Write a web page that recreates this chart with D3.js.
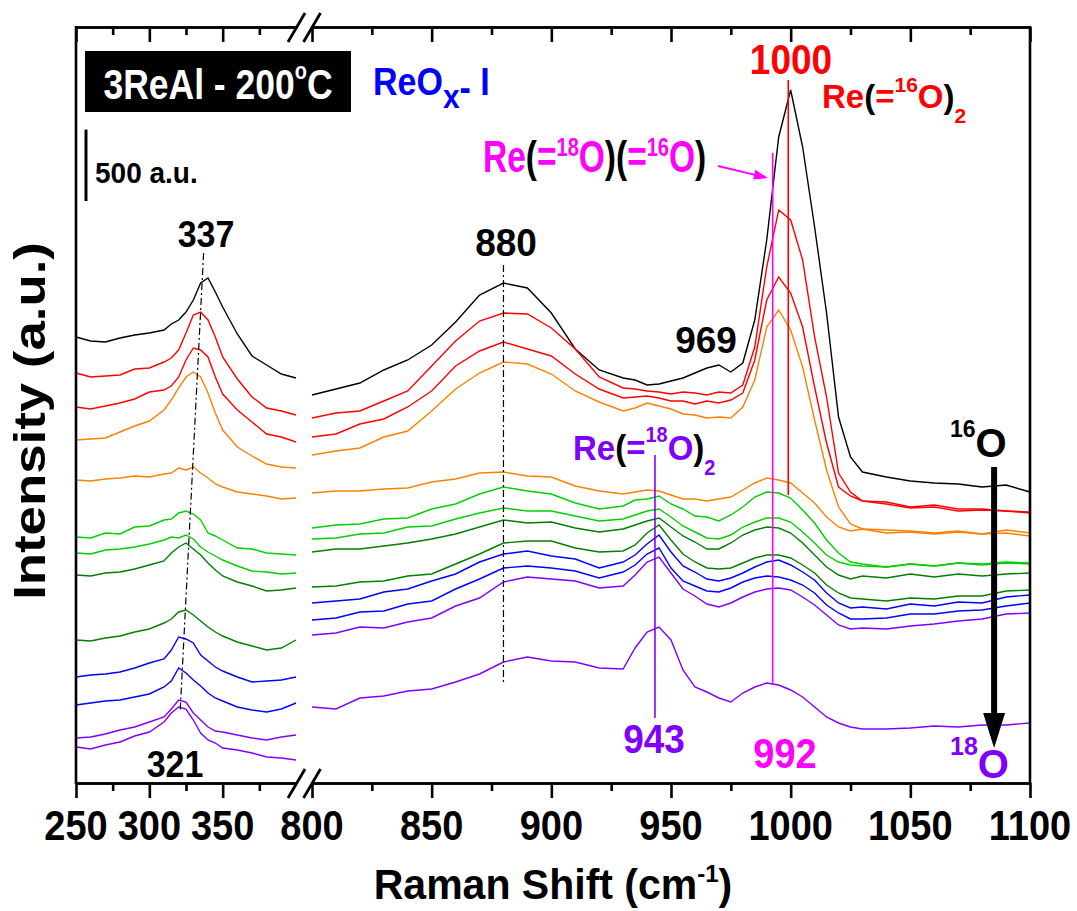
<!DOCTYPE html>
<html lang="en">
  <head>
    <meta charset="UTF-8" />
    <title>3ReAl Raman</title>
    <script src="https://d3js.org/d3.v7.min.js"></script>
    <style>
      body { margin: 0; background: #fff; }
      text { font-family: 'Liberation Sans', Arial, sans-serif; font-weight: bold; }
    </style>
  </head>
  <body>
    <svg width="1077" height="911"></svg>
    <script>
      // Raman shift grids (cm-1) for the two panels of the broken axis
      var xLeft = [250, 260, 270, 280, 290, 300, 310, 315, 320, 325, 330, 335, 340, 345, 350, 360, 370, 380, 390, 400]
      var xRight = [800, 810, 820, 830, 840, 850, 860, 870, 880, 890, 900, 910, 920, 930, 935, 940, 945, 950, 955, 960,
        965, 970, 975, 980, 985, 990, 995, 1000, 1005, 1010, 1015, 1020, 1025, 1030, 1040, 1050, 1060, 1070, 1080, 1090, 1100]

      // stacked intensities (a.u.), top trace (16O) to bottom trace (18O)
      var blackL = [3122, 3094, 3087, 3115, 3136, 3150, 3171, 3213, 3241, 3297, 3381, 3500, 3535, 3437, 3332, 3143, 2989, 2926, 2863, 2835]
      var red1L = [2870, 2842, 2849, 2856, 2898, 2905, 2947, 2975, 3031, 3150, 3276, 3297, 3241, 3122, 2982, 2828, 2702, 2625, 2604, 2576]
      var red2L = [2632, 2618, 2639, 2660, 2688, 2737, 2751, 2779, 2842, 2961, 3045, 3031, 2982, 2842, 2723, 2611, 2527, 2443, 2422, 2387]
      var orange1L = [2401, 2408, 2415, 2457, 2499, 2534, 2611, 2681, 2765, 2842, 2877, 2842, 2730, 2590, 2471, 2352, 2289, 2233, 2212, 2205]
      var orange2L = [2121, 2114, 2128, 2135, 2149, 2142, 2163, 2170, 2205, 2191, 2212, 2170, 2135, 2093, 2072, 2037, 2023, 2009, 1988, 1995]
      var green1L = [1722, 1715, 1750, 1743, 1792, 1799, 1841, 1848, 1890, 1904, 1883, 1841, 1750, 1729, 1701, 1645, 1638, 1610, 1603, 1596]
      var green2L = [1610, 1603, 1631, 1638, 1652, 1673, 1701, 1722, 1715, 1736, 1708, 1652, 1617, 1589, 1561, 1519, 1484, 1477, 1463, 1470]
      var dkgreen1L = [1456, 1449, 1470, 1477, 1498, 1526, 1554, 1610, 1652, 1680, 1638, 1596, 1540, 1491, 1449, 1407, 1379, 1344, 1351, 1365]
      var dkgreen2L = [1001, 994, 1015, 1029, 1057, 1078, 1120, 1148, 1197, 1211, 1176, 1134, 1092, 1057, 1029, 987, 959, 931, 945, 1001]
      var blue1L = [742, 756, 763, 777, 805, 840, 868, 931, 1022, 1008, 980, 896, 854, 812, 784, 742, 707, 714, 721, 742]
      var blue2L = [546, 560, 574, 581, 602, 623, 672, 714, 805, 770, 721, 679, 630, 595, 574, 532, 511, 497, 518, 560]
      var purple1L = [315, 322, 343, 371, 392, 427, 462, 518, 581, 567, 490, 441, 392, 364, 357, 336, 315, 301, 322, 336]
      var purple2L = [252, 238, 266, 287, 329, 357, 427, 490, 532, 518, 441, 350, 301, 280, 245, 231, 210, 182, 175, 161]

      var blackR = [2716, 2758, 2800, 2891, 2961, 3066, 3227, 3416, 3500, 3465, 3290, 3038, 2891, 2835, 2821, 2786, 2793, 2814, 2835, 2870,
        2905, 2926, 2877, 2940, 3241, 3801, 4522, 4851, 4452, 3892, 3290, 2562, 2282, 2177, 2142, 2114, 2100, 2093, 2072, 2086, 2037]
      var red1R = [2555, 2590, 2604, 2674, 2744, 2919, 3094, 3234, 3290, 3283, 3185, 3038, 2842, 2765, 2758, 2744, 2737, 2723, 2737, 2730,
        2716, 2737, 2730, 2786, 3052, 3612, 4011, 3941, 3661, 3122, 2702, 2170, 2037, 1974, 1967, 1932, 1946, 1918, 1918, 1904, 1897]
      var red2R = [2422, 2443, 2513, 2548, 2632, 2744, 2919, 3024, 3087, 3038, 2989, 2863, 2758, 2695, 2702, 2709, 2695, 2674, 2674, 2653,
        2674, 2660, 2681, 2730, 2961, 3381, 3542, 3430, 3192, 2772, 2380, 2072, 2009, 1974, 1953, 1925, 1932, 1904, 1911, 1904, 1890]
      var orange1R = [2296, 2324, 2345, 2422, 2464, 2604, 2758, 2870, 2947, 2933, 2863, 2744, 2667, 2604, 2625, 2660, 2639, 2618, 2583, 2576,
        2555, 2562, 2555, 2632, 2821, 3192, 3311, 3171, 2912, 2541, 2191, 1932, 1813, 1778, 1771, 1764, 1750, 1764, 1743, 1771, 1750]
      var orange2R = [2030, 2044, 2044, 2058, 2065, 2107, 2128, 2170, 2177, 2149, 2142, 2079, 2044, 2023, 2037, 2051, 2044, 2016, 1988, 1988,
        1974, 1988, 2002, 2051, 2100, 2135, 2121, 2100, 2030, 1960, 1862, 1792, 1764, 1778, 1750, 1757, 1743, 1757, 1743, 1750, 1729]
      var green1R = [1785, 1806, 1813, 1848, 1855, 1918, 1953, 2023, 2072, 2044, 2023, 1960, 1918, 1939, 1981, 1988, 2009, 1953, 1918, 1869,
        1862, 1834, 1876, 1932, 2002, 2037, 2030, 1995, 1911, 1820, 1701, 1610, 1547, 1533, 1512, 1533, 1519, 1540, 1526, 1540, 1533]
      var green2R = [1708, 1715, 1743, 1750, 1792, 1799, 1848, 1890, 1925, 1904, 1904, 1869, 1834, 1848, 1876, 1904, 1918, 1862, 1799, 1757,
        1715, 1708, 1736, 1792, 1827, 1855, 1855, 1827, 1757, 1680, 1596, 1547, 1526, 1519, 1512, 1533, 1519, 1540, 1533, 1547, 1540]
      var dkgreen1R = [1617, 1638, 1638, 1659, 1680, 1708, 1743, 1792, 1841, 1820, 1827, 1785, 1757, 1778, 1806, 1834, 1855, 1792, 1729, 1687,
        1638, 1638, 1680, 1736, 1771, 1792, 1785, 1750, 1680, 1596, 1512, 1456, 1428, 1449, 1435, 1463, 1442, 1463, 1449, 1463, 1470]
      var dkgreen2R = [1372, 1379, 1407, 1414, 1449, 1463, 1533, 1603, 1680, 1694, 1694, 1645, 1617, 1624, 1666, 1750, 1806, 1701, 1603, 1547,
        1505, 1498, 1505, 1540, 1575, 1596, 1596, 1575, 1526, 1470, 1386, 1330, 1295, 1288, 1274, 1295, 1288, 1309, 1309, 1344, 1351]
      var blue1R = [1260, 1274, 1288, 1337, 1358, 1414, 1463, 1547, 1603, 1624, 1589, 1568, 1505, 1547, 1596, 1673, 1736, 1617, 1519, 1477,
        1428, 1414, 1435, 1470, 1512, 1547, 1561, 1526, 1477, 1421, 1330, 1260, 1225, 1232, 1218, 1253, 1239, 1267, 1260, 1302, 1316]
      var blue2R = [1141, 1155, 1197, 1204, 1253, 1274, 1358, 1428, 1505, 1519, 1505, 1484, 1435, 1477, 1526, 1603, 1645, 1505, 1414, 1379,
        1344, 1337, 1365, 1407, 1435, 1449, 1442, 1421, 1386, 1330, 1246, 1190, 1148, 1148, 1155, 1183, 1183, 1204, 1211, 1239, 1260]
      var purple1R = [1036, 1050, 1092, 1085, 1127, 1155, 1239, 1295, 1407, 1442, 1428, 1414, 1365, 1379, 1456, 1547, 1582, 1470, 1358, 1309,
        1253, 1232, 1260, 1302, 1337, 1358, 1365, 1351, 1302, 1246, 1176, 1106, 1078, 1085, 1078, 1099, 1113, 1134, 1148, 1183, 1190]
      var purple2R = [532, 518, 595, 609, 644, 658, 707, 763, 847, 882, 854, 847, 805, 798, 945, 1057, 1092, 1001, 791, 672,
        637, 595, 567, 630, 672, 700, 686, 651, 602, 532, 462, 420, 392, 378, 378, 385, 399, 392, 406, 406, 420]

      var seriesL = [blackL, red1L, red2L, orange1L, orange2L, green1L, green2L, dkgreen1L, dkgreen2L, blue1L, blue2L, purple1L, purple2L]
      var seriesR = [blackR, red1R, red2R, orange1R, orange2R, green1R, green2R, dkgreen1R, dkgreen2R, blue1R, blue2R, purple1R, purple2R]
      var seriesColors = ['#000000', '#ff0000', '#ff0000', '#ff8000', '#ff8000', '#00d000', '#00d000', '#007f00', '#007f00',
        '#0000ff', '#0000ff', '#8000ff', '#8000ff']

      var majorL = [250, 300, 350]
      var minorL = [275, 325, 375]
      var majorR = [800, 850, 900, 950, 1000, 1050, 1100]
      var minorR = [825, 875, 925, 975, 1025, 1075]

      // peak marker lines: position, top, bottom (a.u.), colour
      var peakPos = [999, 992.5, 943.3]
      var peakTop = [4921, 4410, 2296]
      var peakBottom = [2016, 700, 455]
      var peakColor = ['#ff0000', '#ff00ff', '#8000ff']

      var svg = d3.select('svg')
      var plotL = 76, plotR = 1030, plotT = 27, plotB = 783

      var xL = d3.scaleLinear().domain([250, 400]).range([plotL, 296])
      var xR = d3.scaleLinear().domain([800, 1100]).range([312, plotR])
      var y = d3.scaleLinear().domain([0, 5292]).range([plotB, plotT])

      // spectra
      var lineL = d3.line().x(function(d, i) { return xL(xLeft[i]) }).y(function(d) { return y(d) })
      var lineR = d3.line().x(function(d, i) { return xR(xRight[i]) }).y(function(d) { return y(d) })

      svg.append('g').selectAll('path').data(seriesL).enter().append('path')
        .attr('d', lineL).attr('fill', 'none').attr('stroke-width', 1.4)
        .attr('stroke', function(d, i) { return seriesColors[i] })
      svg.append('g').selectAll('path').data(seriesR).enter().append('path')
        .attr('d', lineR).attr('fill', 'none').attr('stroke-width', 1.4)
        .attr('stroke', function(d, i) { return seriesColors[i] })

      // dash-dot guide lines
      svg.append('line')
        .attr('x1', xL(337)).attr('y1', y(3710)).attr('x2', xL(321)).attr('y2', y(497))
        .attr('stroke', '#000').attr('stroke-width', 1.2).attr('stroke-dasharray', '7,3,2,3')
      svg.append('line')
        .attr('x1', xR(880)).attr('y1', y(3626)).attr('x2', xR(880)).attr('y2', y(707))
        .attr('stroke', '#000').attr('stroke-width', 1.2).attr('stroke-dasharray', '7,3,2,3')

      // peak lines
      svg.append('g').selectAll('line').data(peakPos).enter().append('line')
        .attr('x1', function(d) { return xR(d) }).attr('x2', function(d) { return xR(d) })
        .attr('y1', function(d, i) { return y(peakTop[i]) }).attr('y2', function(d, i) { return y(peakBottom[i]) })
        .attr('stroke', function(d, i) { return peakColor[i] }).attr('stroke-width', 1.6)

      // axes (ticks only, labels drawn below)
      function drawAxis(scale, major, minor) {
        var b1 = svg.append('g').attr('transform', `translate(0,${plotB})`)
          .call(d3.axisBottom(scale).tickValues(major).tickSize(15).tickSizeOuter(0).tickFormat(''))
        var b2 = svg.append('g').attr('transform', `translate(0,${plotB})`)
          .call(d3.axisBottom(scale).tickValues(minor).tickSize(8).tickSizeOuter(0).tickFormat(''))
        var t1 = svg.append('g').attr('transform', `translate(0,${plotT})`)
          .call(d3.axisTop(scale).tickValues(major).tickSize(-15).tickSizeOuter(0).tickFormat(''))
        var t2 = svg.append('g').attr('transform', `translate(0,${plotT})`)
          .call(d3.axisTop(scale).tickValues(minor).tickSize(-8).tickSizeOuter(0).tickFormat(''))
        ;[b1, b2, t1, t2].forEach(function(g) {
          g.selectAll('path, line').attr('stroke', '#000').attr('stroke-width', 2.6)
        })
      }
      drawAxis(xL, majorL, minorL)
      drawAxis(xR, majorR, minorR)

      svg.append('line').attr('x1', plotL).attr('x2', plotL).attr('y1', plotT - 1).attr('y2', plotB + 1)
        .attr('stroke', '#000').attr('stroke-width', 2.6)
      svg.append('line').attr('x1', plotR).attr('x2', plotR).attr('y1', plotT - 1).attr('y2', plotB + 1)
        .attr('stroke', '#000').attr('stroke-width', 2.6)

      // axis break marks
      ;[plotT, plotB].forEach(function(yy) {
        ;[0, 15.5].forEach(function(dx) {
          svg.append('line')
            .attr('x1', 288 + dx).attr('y1', yy + 15).attr('x2', 305 + dx).attr('y2', yy - 14)
            .attr('stroke', '#000').attr('stroke-width', 2.8)
        })
      })

      // text helper: stretched bold text with coloured tspans
      function label(x, yy, size, k, anchor, parts) {
        var t = svg.append('text')
          .attr('transform', `translate(${x},${yy}) scale(1,${k})`)
          .attr('text-anchor', anchor)
          .attr('font-size', size)
        parts.forEach(function(p) {
          t.append('tspan').text(p[0]).attr('fill', p[1])
            .attr('font-size', p[2] || size).attr('dy', p[3] || 0)
        })
        return t
      }

      // tick labels
      majorL.forEach(function(v) { label(xL(v), 840, 38, 1.1, 'middle', [[v, '#000']]) })
      majorR.forEach(function(v) { label(xR(v), 840, 38, 1.1, 'middle', [[v, '#000']]) })

      // axis titles
      label(553, 899, 41, 1.02, 'middle', [['Raman Shift (cm', '#000'], ['-1', '#000', 24, -17], [')', '#000', 41, 17]])
      svg.append('text')
        .attr('transform', 'translate(45,421) rotate(-90) scale(1.2,1)')
        .attr('text-anchor', 'middle').attr('font-size', 44).attr('fill', '#000')
        .text('Intensity (a.u.)')

      // sample box
      svg.append('rect').attr('x', 85).attr('y', 51).attr('width', 266).attr('height', 61).attr('fill', '#000')
      label(218, 99, 35.5, 1.2, 'middle', [['3ReAl - 200', '#fff'], ['o', '#fff', 20, -17], ['C', '#fff', 35.5, 17]])

      // ReOx - I
      label(373, 95, 34, 1.12, 'start', [['ReO', '#0000ff'], ['x', '#0000ff', 30, 12], ['-', '#0000ff', 34, -7], [' I', '#0000ff', 34, -5]])

      // scale bar
      svg.append('line').attr('x1', 86).attr('x2', 86).attr('y1', y(4074)).attr('y2', y(4574))
        .attr('stroke', '#000').attr('stroke-width', 3)
      label(95, 183, 28, 1.03, 'start', [['500 a.u.', '#000']])

      // peak position labels
      label(206, 247, 34, 1.1, 'middle', [['337', '#000']])
      label(175, 777, 34, 1.1, 'middle', [['321', '#000']])
      label(506, 256, 37, 1.06, 'middle', [['880', '#000']])
      label(706, 353, 37, 1.0, 'middle', [['969', '#000']])
      label(791, 74, 37, 1.15, 'middle', [['1000', '#ff0000']])
      label(654, 753, 37, 1.1, 'middle', [['943', '#8000ff']])
      label(785, 768, 38, 1.1, 'middle', [['992', '#ff00ff']])

      // species labels
      label(822, 108, 33, 1.0, 'start', [['Re', '#ff0000'], ['(', '#000'], ['=', '#ff0000'], ['16', '#ff0000', 21, -16],
        ['O', '#ff0000', 33, 16], [')', '#000'], ['2', '#ff0000', 21, 15]])
      label(483, 172, 33.5, 1.3, 'start', [['Re', '#ff00ff'], ['(', '#000'], ['=', '#ff00ff'], ['18', '#ff00ff', 20, -12],
        ['O', '#ff00ff', 33.5, 12], [')', '#000'], ['(', '#000'], ['=', '#ff00ff'], ['16', '#ff00ff', 20, -12],
        ['O', '#ff00ff', 33.5, 12], [')', '#000']])
      label(573, 460, 33, 1.06, 'start', [['Re', '#8000ff'], ['(', '#000'], ['=', '#8000ff'], ['18', '#8000ff', 20, -17],
        ['O', '#8000ff', 33, 17], [')', '#000'], ['2', '#8000ff', 20, 14]])

      // magenta arrow to the 992 line
      var ax0 = 718, ay0 = 166, ax1 = xR(990.5), ay1 = 178
      var ang = Math.atan2(ay1 - ay0, ax1 - ax0)
      svg.append('line').attr('x1', ax0).attr('y1', ay0)
        .attr('x2', ax1 - 10 * Math.cos(ang)).attr('y2', ay1 - 10 * Math.sin(ang))
        .attr('stroke', '#ff00ff').attr('stroke-width', 1.8)
      var hx = ax1 - 14 * Math.cos(ang), hy = ay1 - 14 * Math.sin(ang)
      svg.append('path')
        .attr('d', `M${ax1},${ay1}L${hx - 5 * Math.sin(ang)},${hy + 5 * Math.cos(ang)}L${hx + 5 * Math.sin(ang)},${hy - 5 * Math.cos(ang)}Z`)
        .attr('fill', '#ff00ff')

      // isotope exchange arrow
      label(950, 437, 23, 1.0, 'start', [['16', '#000'], ['O', '#000', 40, 20]])
      label(950, 755, 25, 1.0, 'start', [['18', '#8000ff'], ['O', '#8000ff', 40, 23]])
      var arrowX = xR(1085)
      svg.append('line').attr('x1', arrowX).attr('x2', arrowX).attr('y1', 467).attr('y2', 718)
        .attr('stroke', '#000').attr('stroke-width', 6)
      svg.append('path')
        .attr('d', `M${arrowX},${748}L${arrowX - 11},${713}L${arrowX + 11},${713}Z`)
        .attr('fill', '#000')
    </script>
  </body>
</html>
